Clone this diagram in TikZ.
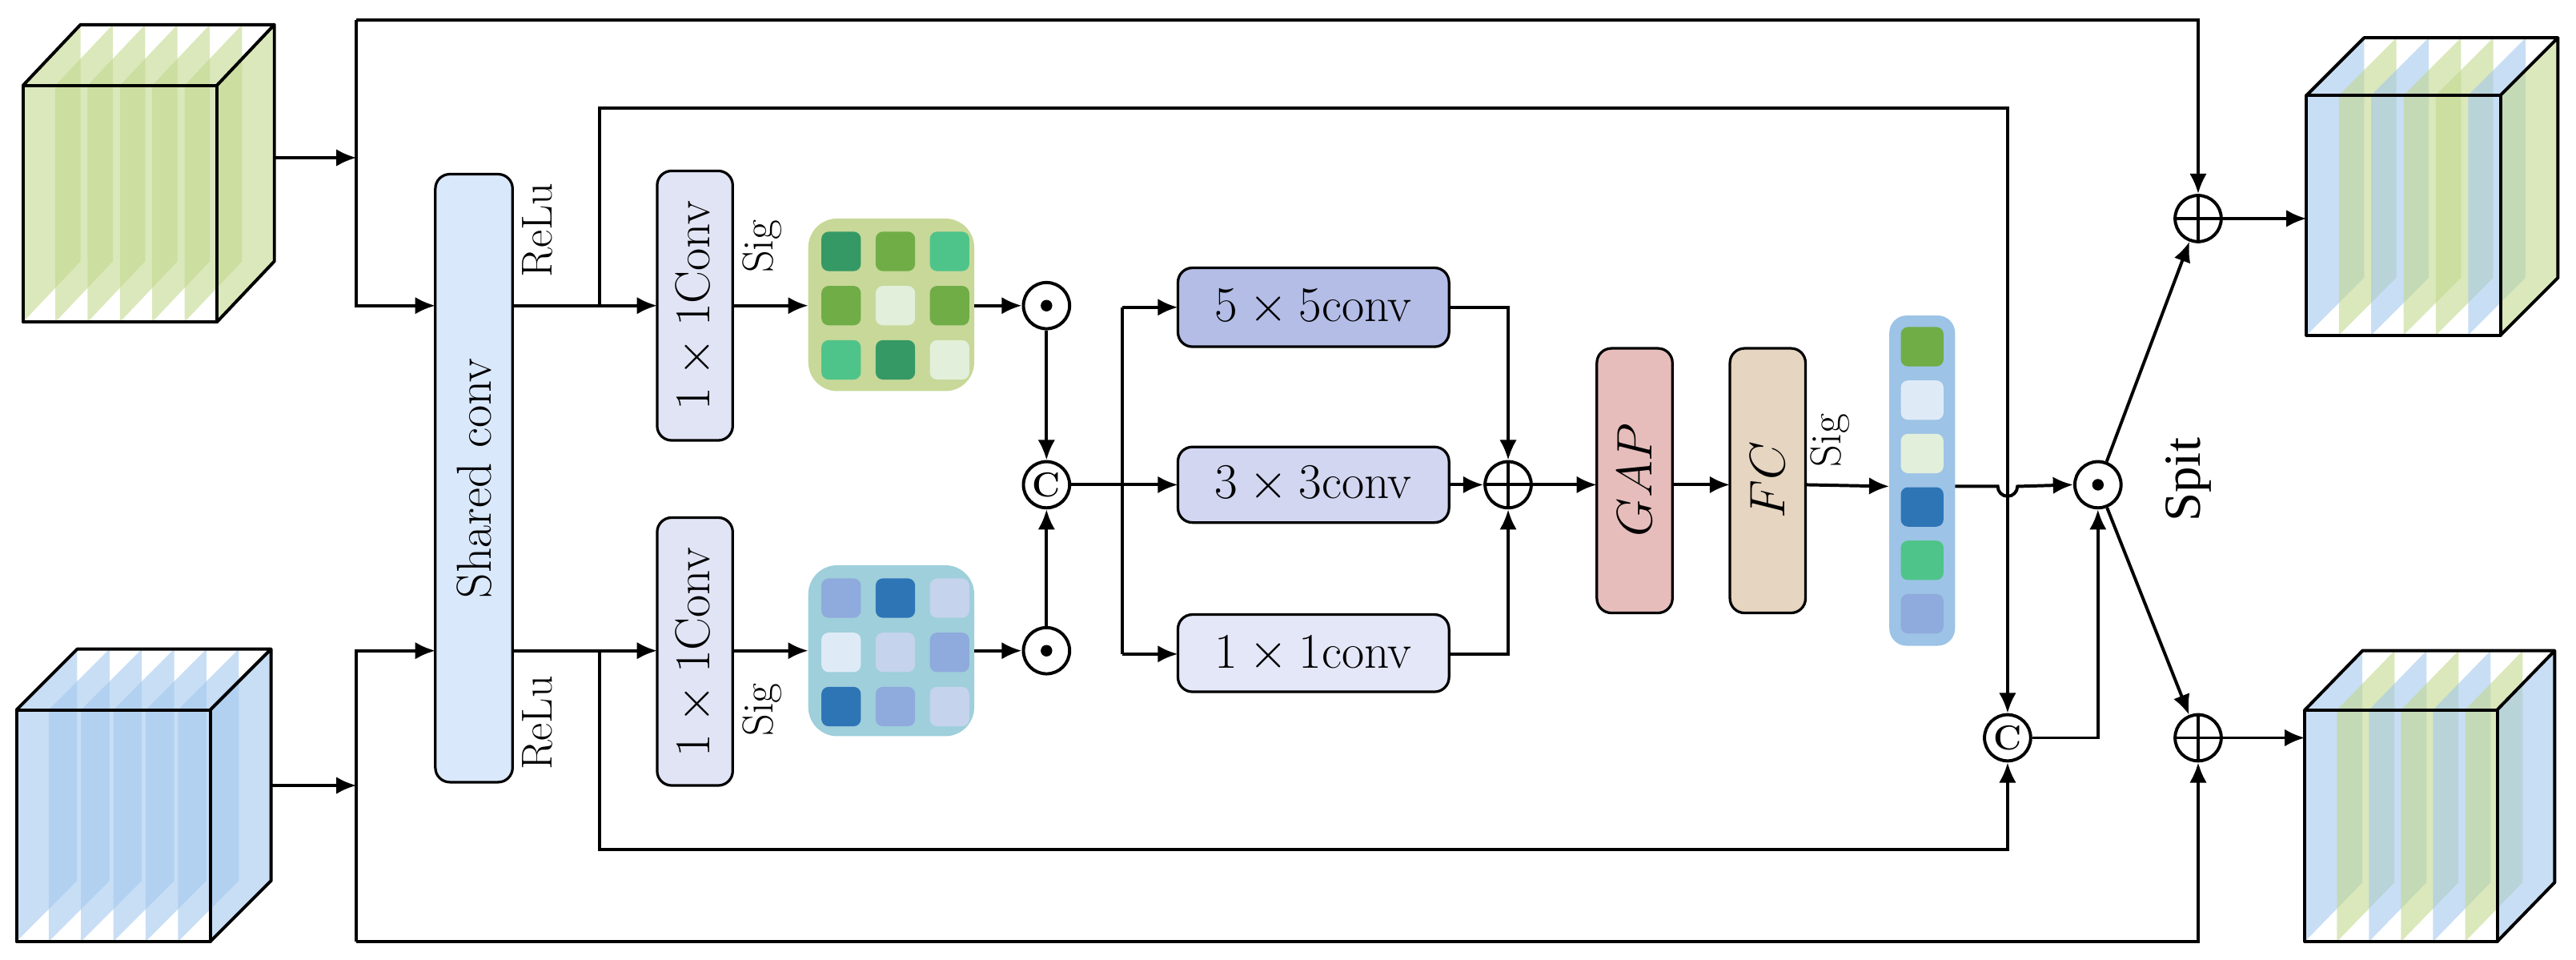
\documentclass[tikz,border=0pt]{standalone}
\usepackage{fontspec}
\newfontfamily\spitf{Liberation Serif}
\usetikzlibrary{arrows.meta}
\definecolor{gsl}{HTML}{C2D88E}
\definecolor{bsl}{HTML}{A3C8EE}
\definecolor{scf}{HTML}{DAE8FC}
\definecolor{cvf}{HTML}{E1E4F5}
\definecolor{c55}{HTML}{B4BDE6}
\definecolor{c33}{HTML}{D2D6F1}
\definecolor{c11}{HTML}{E4E7F7}
\definecolor{gapf}{HTML}{E6BDBB}
\definecolor{fcf}{HTML}{E5D5C1}
\definecolor{ggrid}{HTML}{C7D898}
\definecolor{bgrid}{HTML}{9ECFDB}
\definecolor{vecf}{HTML}{9DC3E6}
\definecolor{dg}{HTML}{359966}
\definecolor{mg}{HTML}{70AD47}
\definecolor{tg}{HTML}{4FC48A}
\definecolor{lg}{HTML}{E2EFDA}
\definecolor{db}{HTML}{2E75B6}
\definecolor{mb}{HTML}{8FAADC}
\definecolor{pb}{HTML}{C5D3EC}
\definecolor{lb}{HTML}{DEEBF7}
\newcommand\mycube[7]{% x0 y0 w h dx dy colorlist
  \foreach \c [count=\i from 0] in {#7}{
    \pgfmathsetmacro\xi{#1+\i*#3/6}
    \fill[\c,fill opacity=0.6] (\xi,#2+#4) -- (\xi,#2) -- (\xi+#5,#2-#6) -- (\xi+#5,#2+#4-#6) -- cycle;
  }
  \draw[line width=1.1pt,line join=round] (#1,#2) rectangle (#1+#3,#2+#4);
  \draw[line width=1.1pt,line join=round] (#1,#2) -- (#1+#5,#2-#6) -- (#1+#3+#5,#2-#6) -- (#1+#3,#2)
     (#1+#3+#5,#2-#6) -- (#1+#3+#5,#2+#4-#6) -- (#1+#3,#2+#4);
}
\begin{document}
\begin{tikzpicture}[x=0.02cm,y=-0.02cm,
  font=\fontsize{17}{20}\selectfont,
  every path/.style={line width=1.1pt},
  arr/.style={-{Latex[length=7pt,width=6pt]}},
  box/.style={draw,rounded corners=5pt,inner sep=0pt,line width=0.9pt},
  op/.style={draw,circle,minimum size=16pt,inner sep=0pt,line width=1.1pt,font=\fontsize{12}{12}\selectfont\bfseries},
  lab/.style={rotate=90,inner sep=1pt,font=\fontsize{15}{18}\selectfont},
  cell/.style={rounded corners=2.5pt}]
\useasboundingbox (0,0) rectangle (1568,584);

% cubes
\mycube{14}{52}{118}{144}{35}{37}{gsl,gsl,gsl,gsl,gsl,gsl,gsl}
\mycube{10}{432}{118}{141}{37}{37}{bsl,bsl,bsl,bsl,bsl,bsl,bsl}
\mycube{1404}{58}{118}{146}{35}{35}{bsl,gsl,bsl,gsl,gsl,bsl,gsl}
\mycube{1403}{432}{117}{141}{35}{36}{bsl,gsl,bsl,gsl,bsl,gsl,bsl}
\coordinate (ing) at (167,96);
\coordinate (inb) at (165,478);
\coordinate (outg) at (1404,133);
\coordinate (outb) at (1403,449);

% boxes
\path[box,fill=scf] (265,106) rectangle (312,476);
\node[rotate=90] (sct) at (288.5,291) {Shared conv};
\coordinate (scT) at (312,186); \coordinate (scB) at (312,396);
\coordinate (scTi) at (265,186); \coordinate (scBi) at (265,396);

\path[box,fill=cvf] (400,104) rectangle (446,268);
\node[rotate=90] (c1t) at (423,186) {$1\times 1$Conv};
\path[box,fill=cvf] (400,315) rectangle (446,478);
\node[rotate=90] (c1b) at (423,397) {$1\times 1$Conv};
\coordinate (c1tL) at (400,186); \coordinate (c1tR) at (446,186);
\coordinate (c1bL) at (400,396); \coordinate (c1bR) at (446,396);

\node[lab] at (327,140) {ReLu};
\node[lab] at (327,440) {ReLu};
\node[lab] at (464,150) {Sig};
\node[lab] at (464,432) {Sig};
\node[lab] at (1114,268) {Sig};

% grids
\fill[ggrid,rounded corners=10pt] (492,133) rectangle (593,238);
\fill[bgrid,rounded corners=10pt] (492,344) rectangle (593,448);
\foreach \r/\cs in {0/{dg,mg,tg},1/{mg,lg,mg},2/{tg,dg,lg}}{
  \foreach \c [count=\k from 0] in \cs {
    \fill[\c,cell] (500+\k*33,141+\r*33) rectangle +(24,24);}}
\foreach \r/\cs in {0/{mb,db,pb},1/{lb,pb,mb},2/{db,mb,pb}}{
  \foreach \c [count=\k from 0] in \cs {
    \fill[\c,cell] (500+\k*33,352+\r*33) rectangle +(24,24);}}
\coordinate (gtL) at (492,186); \coordinate (gtR) at (593,186);
\coordinate (gbL) at (492,396); \coordinate (gbR) at (593,396);

% ops
\node[op] (m1) at (637,186) {};
\fill (m1) circle (2pt);
\node[op] (m2) at (637,396) {};
\fill (m2) circle (2pt);
\node[op] (cc) at (637,295) {C};
\path[box,fill=c55] (717,163) rectangle (882,211);
\node (k5) at (799.5,187) {$5\times 5$conv};
\path[box,fill=c33] (717,272) rectangle (882,318);
\node (k3) at (799.5,295) {$3\times 3$conv};
\path[box,fill=c11] (717,374) rectangle (882,421);
\node (k1) at (799.5,398) {$1\times 1$conv};
\node[op] (pl) at (918,295) {};
\draw (pl.north) -- (pl.south) (pl.west) -- (pl.east);

\path[box,fill=gapf] (972,212) rectangle (1018,373);
\node[rotate=90] at (995,292) {$GAP$};
\path[box,fill=fcf] (1053,212) rectangle (1099,373);
\node[rotate=90] at (1076,292) {$FC$};

\fill[vecf,rounded corners=6pt] (1150,192) rectangle (1190,393);
\foreach \c [count=\k from 0] in {mg,lb,lg,db,tg,mb}{
  \fill[\c,cell] (1157,199+\k*32.5) rectangle +(26,24);}

\node[op] (m3) at (1277,295) {};
\fill (m3) circle (2pt);
\node[op] (c2) at (1222,449) {C};
\node[op] (p1) at (1338,133) {};
\draw (p1.north) -- (p1.south) (p1.west) -- (p1.east);
\node[op] (p2) at (1338,449) {};
\draw (p2.north) -- (p2.south) (p2.west) -- (p2.east);
\node[rotate=90,font=\spitf\fontsize{18}{20}\selectfont] at (1332,292) {Spit};

% connectors
\draw[arr] (ing) -- (217,96);
\draw[arr] (inb) -- (217,478);
\draw[arr] (217,12) -- (217,186) -- (scTi);
\draw[arr] (217,573) -- (217,396) -- (scBi);
\draw[arr] (217,12) -- (1338,12) -- (p1.north);
\draw[arr] (217,573) -- (1338,573) -- (p2.south);
\draw[arr] (scT) -- (c1tL);
\draw[arr] (scB) -- (c1bL);
\draw[arr] (365,186) -- (365,66) -- (1222,66) -- (c2.north);
\draw[arr] (365,396) -- (365,517) -- (1222,517) -- (c2.south);
\draw[arr] (c1tR) -- (gtL);
\draw[arr] (c1bR) -- (gbL);
\draw[arr] (gtR) -- (m1.west);
\draw[arr] (gbR) -- (m2.west);
\draw[arr] (m1.south) -- (cc.north);
\draw[arr] (m2.north) -- (cc.south);
\draw (cc.east) -- (683,295);
\draw[arr] (683,187) -- (717,187);
\draw (683,187) -- (683,398);
\draw[arr] (683,295) -- (717,295);
\draw[arr] (683,398) -- (717,398);
\draw[arr] (882,187) -- (918,187) -- (pl.north);
\draw[arr] (882,398) -- (918,398) -- (pl.south);
\draw[arr] (882,295) -- (pl.west);
\draw[arr] (pl.east) -- (972,295);
\draw[arr] (1018,295) -- (1053,295);
\draw[arr] (1099,295) -- (1150,296);
\draw[arr] (1190,296) -- (1216,296) arc[start angle=180,end angle=0,radius=6] -- (m3.west);
\draw[arr] (c2.east) -- (1277,449) -- (m3.south);
\draw[arr] (m3) -- (p1);
\draw[arr] (m3) -- (p2);
\draw[arr] (p1.east) -- (outg);
\draw[arr] (p2.east) -- (outb);
\end{tikzpicture}
\end{document}
